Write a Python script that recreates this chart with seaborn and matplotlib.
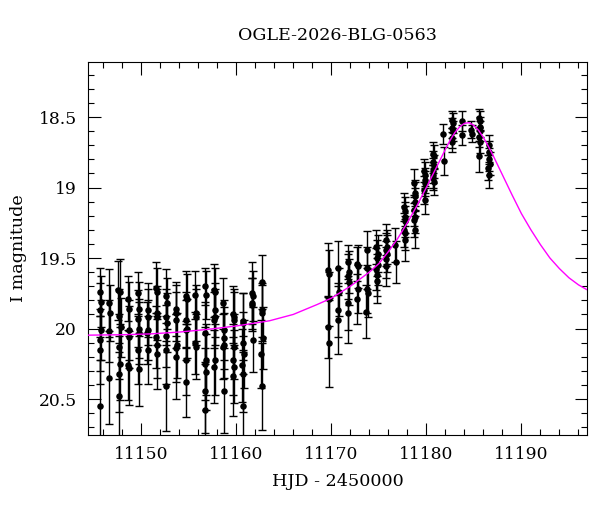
import pandas as pd
import matplotlib.pyplot as plt
import seaborn as sns
from matplotlib.ticker import MultipleLocator, FuncFormatter

# Baseline season (before the event)
hjd_base = [
    11145.66, 11145.74, 11145.69, 11145.78, 11145.63, 11145.71, 11145.67,
    11146.62, 11146.68, 11146.65, 11146.60,
    11147.58, 11147.80, 11147.66, 11147.84, 11147.61, 11147.77, 11147.70, 11147.63,
    11148.62, 11148.70, 11148.66, 11148.73, 11148.60, 11148.68,
    11149.70, 11149.78, 11149.66, 11149.74, 11149.80, 11149.69, 11149.76,
    11150.66, 11150.72, 11150.69, 11150.64, 11150.71,
    11151.60, 11151.66, 11151.63, 11151.69, 11151.58, 11151.65, 11151.62,
    11152.60, 11152.66, 11152.63, 11152.69, 11152.58, 11152.64, 11152.61,
    11153.64, 11153.70, 11153.67, 11153.73, 11153.62, 11153.69,
    11154.70, 11154.77, 11154.73, 11154.80, 11154.68, 11154.75, 11154.71,
    11155.69, 11155.75, 11155.72, 11155.67, 11155.74,
    11156.73, 11156.80, 11156.76, 11156.83, 11156.70, 11156.78, 11156.74, 11156.72,
    11157.68, 11157.75, 11157.71, 11157.78, 11157.66, 11157.73, 11157.70,
    11158.63, 11158.70, 11158.66, 11158.73, 11158.61, 11158.68,
    11159.68, 11159.75, 11159.71, 11159.78, 11159.66, 11159.73, 11159.70,
    11160.66, 11160.73, 11160.69, 11160.76, 11160.64, 11160.71, 11160.68,
    11161.67, 11161.73, 11161.70, 11161.65, 11161.72,
    11162.66, 11162.73, 11162.69, 11162.76, 11162.64, 11162.71,
]
mag_base = [
    19.74, 19.81, 19.87, 20.01, 20.08, 20.15, 20.55,
    19.82, 19.89, 20.02, 20.35,
    19.73, 19.74, 19.91, 19.99, 20.13, 20.25, 20.32, 20.48,
    19.79, 19.86, 20.01, 20.06, 20.26, 20.28,
    19.75, 19.86, 19.93, 20.00, 20.03, 20.15, 20.29,
    19.87, 19.92, 20.01, 20.03, 20.15,
    19.71, 19.74, 19.89, 19.92, 20.06, 20.12, 20.18,
    19.77, 19.82, 19.92, 19.96, 20.05, 20.15, 20.41,
    19.86, 19.89, 19.94, 20.12, 20.14, 20.20,
    19.77, 19.79, 19.94, 20.00, 20.01, 20.22, 20.38,
    19.76, 19.89, 19.92, 20.10, 20.13,
    19.70, 19.76, 20.03, 20.22, 20.25, 20.31, 20.44, 20.58,
    19.73, 19.74, 19.87, 19.92, 19.94, 20.22, 20.27,
    19.82, 20.01, 20.07, 20.12, 20.13, 20.44,
    19.90, 19.92, 19.94, 20.13, 20.22, 20.27, 20.34,
    19.95, 19.96, 20.10, 20.18, 20.26, 20.32, 20.55,
    19.75, 19.77, 19.82, 19.83, 20.08,
    19.67, 19.87, 19.89, 20.07, 20.18, 20.41,
]
err_base = [
    0.17, 0.18, 0.19, 0.21, 0.22, 0.24, 0.33,
    0.24, 0.20, 0.22, 0.33,
    0.21, 0.23, 0.19, 0.21, 0.23, 0.26, 0.27, 0.31,
    0.16, 0.19, 0.21, 0.22, 0.25, 0.26,
    0.15, 0.19, 0.20, 0.21, 0.22, 0.24, 0.26,
    0.19, 0.20, 0.21, 0.22, 0.24,
    0.18, 0.17, 0.19, 0.20, 0.22, 0.23, 0.25,
    0.19, 0.18, 0.20, 0.21, 0.22, 0.24, 0.32,
    0.19, 0.20, 0.20, 0.23, 0.24, 0.30,
    0.18, 0.18, 0.20, 0.21, 0.21, 0.25, 0.25,
    0.17, 0.20, 0.20, 0.22, 0.23,
    0.13, 0.17, 0.22, 0.25, 0.26, 0.27, 0.30, 0.34,
    0.19, 0.17, 0.19, 0.20, 0.20, 0.25, 0.26,
    0.18, 0.21, 0.22, 0.23, 0.23, 0.30,
    0.20, 0.20, 0.20, 0.23, 0.25, 0.26, 0.28,
    0.20, 0.21, 0.22, 0.24, 0.26, 0.27, 0.33,
    0.22, 0.18, 0.18, 0.19, 0.23,
    0.19, 0.19, 0.20, 0.22, 0.24, 0.31,
]

# Rising part and peak of the event
hjd_event = [
    11169.68, 11169.75, 11169.71, 11169.66, 11169.73,
    11170.71, 11170.77, 11170.74, 11170.69,
    11171.75, 11171.82, 11171.78, 11171.85, 11171.73, 11171.80,
    11172.74, 11172.80, 11172.77, 11172.72,
    11173.72, 11173.78, 11173.75, 11173.81, 11173.70,
    11174.70, 11174.86, 11174.76, 11174.90, 11174.73, 11174.82, 11174.78,
    11175.75, 11175.82, 11175.78, 11175.85, 11175.73, 11175.80,
    11176.74, 11176.76,
    11177.68, 11177.75, 11177.71, 11177.78, 11177.66, 11177.73, 11177.70,
    11178.73, 11178.80, 11178.76, 11178.83, 11178.71, 11178.78, 11178.74, 11178.81,
    11179.78, 11179.85, 11179.81, 11179.88, 11179.76, 11179.83,
    11180.66, 11180.76, 11180.70, 11180.80, 11180.68, 11180.74, 11180.72, 11180.78,
    11181.80, 11181.84,
    11182.70, 11182.77, 11182.73, 11182.80, 11182.68, 11182.75,
    11183.74, 11183.77,
    11184.72, 11184.76,
    11185.57, 11185.64, 11185.60, 11185.67, 11185.55, 11185.62, 11185.59,
    11186.55, 11186.62, 11186.58, 11186.65, 11186.53, 11186.60,
]
mag_event = [
    19.585, 19.61, 19.79, 19.99, 20.105,
    19.57, 19.74, 19.87, 19.94,
    19.53, 19.60, 19.63, 19.67, 19.82, 19.89,
    19.54, 19.56, 19.72, 19.79,
    19.44, 19.57, 19.72, 19.75, 19.88,
    19.42, 19.47, 19.50, 19.55, 19.58, 19.62, 19.66,
    19.37, 19.42, 19.44, 19.47, 19.51, 19.56,
    19.41, 19.53,
    19.14, 19.17, 19.21, 19.24, 19.30, 19.32, 19.37,
    18.97, 19.04, 19.06, 19.10, 19.16, 19.21, 19.23, 19.30,
    18.88, 18.91, 18.95, 18.97, 19.02, 19.09,
    18.76, 18.78, 18.82, 18.85, 18.88, 18.91, 18.93, 18.96,
    18.62, 18.81,
    18.52, 18.545, 18.58, 18.60, 18.65, 18.675,
    18.53, 18.63,
    18.59, 18.62,
    18.51, 18.53, 18.57, 18.60, 18.64, 18.675, 18.78,
    18.70, 18.75, 18.80, 18.83, 18.86, 18.91,
]
err_event = [
    0.19, 0.17, 0.19, 0.22, 0.31,
    0.19, 0.17, 0.19, 0.24,
    0.12, 0.15, 0.16, 0.16, 0.19, 0.21,
    0.12, 0.15, 0.17, 0.18,
    0.13, 0.15, 0.17, 0.17, 0.19,
    0.12, 0.13, 0.13, 0.14, 0.15, 0.15, 0.16,
    0.11, 0.12, 0.12, 0.13, 0.13, 0.14,
    0.12, 0.15,
    0.10, 0.10, 0.11, 0.11, 0.12, 0.12, 0.15,
    0.10, 0.09, 0.10, 0.10, 0.11, 0.11, 0.12, 0.13,
    0.08, 0.09, 0.09, 0.09, 0.10, 0.10,
    0.08, 0.08, 0.08, 0.08, 0.09, 0.09, 0.09, 0.09,
    0.07, 0.10,
    0.06, 0.07, 0.07, 0.07, 0.07, 0.07,
    0.07, 0.07,
    0.06, 0.06,
    0.07, 0.07, 0.07, 0.07, 0.07, 0.08, 0.11,
    0.07, 0.08, 0.08, 0.08, 0.09, 0.09,
]

# Model curve
model_hjd = [
    11144.4, 11148.0, 11151.0, 11154.0, 11157.0, 11160.0, 11163.5, 11166.0,
    11168.5, 11170.0, 11172.0, 11174.0, 11175.0, 11176.0, 11177.0, 11178.0,
    11179.0, 11180.0, 11181.0, 11182.0, 11182.5, 11183.0, 11183.5, 11184.0,
    11184.5, 11185.0, 11185.5, 11186.0, 11186.5, 11187.0, 11188.0, 11189.0,
    11190.0, 11191.0, 11192.0, 11193.0, 11194.0, 11195.0, 11196.0, 11196.9,
]
model_mag = [
    20.047, 20.044, 20.038, 20.025, 20.006, 19.982, 19.945, 19.900,
    19.830, 19.785, 19.700, 19.600, 19.540, 19.455, 19.360, 19.250,
    19.130, 19.000, 18.865, 18.730, 18.665, 18.610, 18.570, 18.545,
    18.540, 18.560, 18.595, 18.645, 18.705, 18.770, 18.910, 19.050,
    19.185, 19.300, 19.405, 19.500, 19.575, 19.640, 19.690, 19.725,
]

obs = pd.DataFrame({
    'hjd': hjd_base + hjd_event,
    'mag': mag_base + mag_event,
    'err': err_base + err_event,
})
model = pd.DataFrame({'hjd': model_hjd, 'mag': model_mag})

sns.set_style("ticks")
plt.rcParams['font.family'] = ['DejaVu Serif']

fig, ax = plt.subplots(figsize=(6, 5.12), dpi=100)
fig.subplots_adjust(left=0.1467, right=0.9783, top=0.8789, bottom=0.1504)

# Error bars, then points, then the fitted model on top
ax.errorbar(obs['hjd'], obs['mag'], yerr=obs['err'], fmt='none',
            ecolor='black', elinewidth=1.0, capsize=2.6, capthick=1.0, zorder=2)
sns.scatterplot(data=obs, x='hjd', y='mag', color='black', s=22,
                linewidth=0, ax=ax, zorder=3)
sns.lineplot(data=model, x='hjd', y='mag', color='#ff00ff', linewidth=1,
             sort=False, estimator=None, ax=ax, zorder=4)

ax.set_xlim(11144.4, 11196.9)
ax.set_ylim(20.755, 18.11)

ax.xaxis.set_major_locator(MultipleLocator(10))
ax.xaxis.set_minor_locator(MultipleLocator(2))
ax.yaxis.set_major_locator(MultipleLocator(0.5))
ax.yaxis.set_minor_locator(MultipleLocator(0.1))
ax.yaxis.set_major_formatter(FuncFormatter(lambda v, p: f"{v:g}"))

ax.tick_params(which='both', direction='in', top=True, right=True,
               colors='black', width=0.8)
ax.tick_params(which='major', length=9, labelsize=12.3, pad=8)
ax.tick_params(which='minor', length=4.5)
for s in ax.spines.values():
    s.set_color('black')
    s.set_linewidth(0.8)

ax.set_xlabel('HJD - 2450000', fontsize=12.6, color='black', labelpad=7)
ax.set_ylabel('I magnitude', fontsize=12.6, color='black', labelpad=8)
fig.text(0.5625, 1 - 35 / 512, 'OGLE-2026-BLG-0563', ha='center', va='center',
         fontsize=12.6, color='black')
ax.grid(False)

plt.savefig("out.png", dpi=100, facecolor='white')
